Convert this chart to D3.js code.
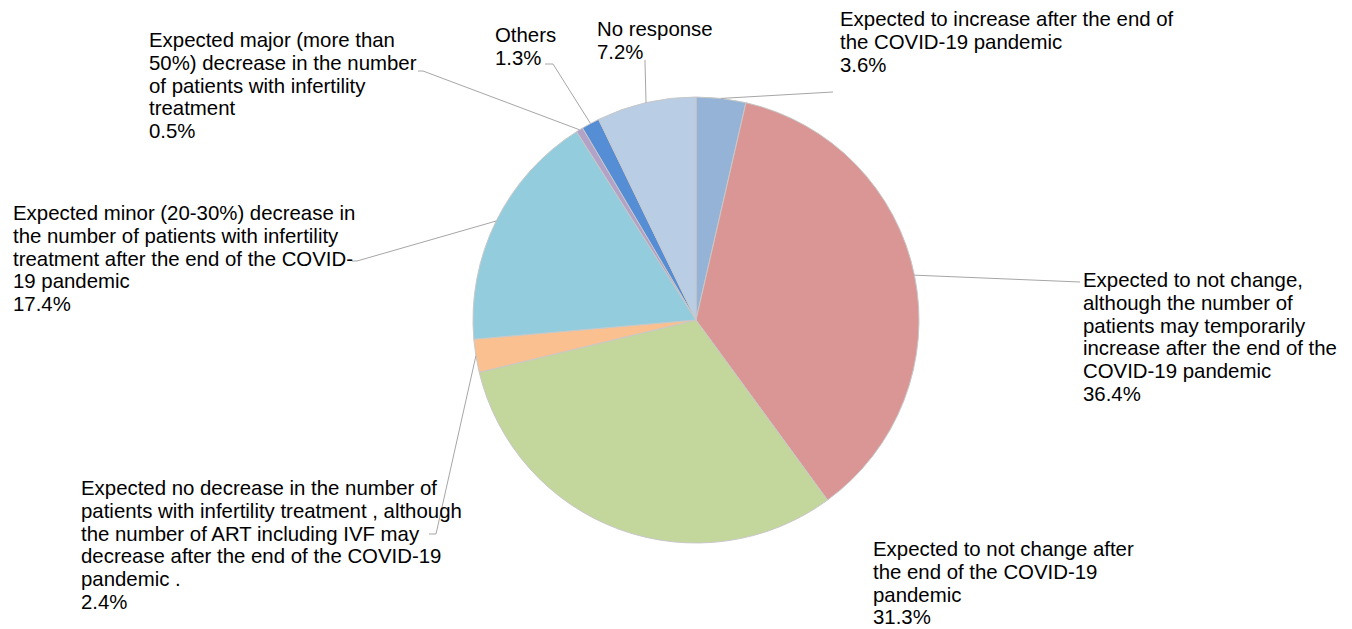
<!DOCTYPE html>
<html>
<head>
<meta charset="utf-8">
<script src="https://cdn.jsdelivr.net/npm/d3@7"></script>
<style>
  html, body { margin: 0; padding: 0; background: #fff; }
  svg { display: block; }
  text { font-family: "Liberation Sans", Arial, sans-serif; font-size: 20.4px; fill: #000; }
</style>
</head>
<body>
<svg id="chart" width="1352" height="629"></svg>
<script>
// ---- data ----
const categories = [
  "Expected to increase after the end of the COVID-19 pandemic",
  "Expected to not change, although the number of patients may temporarily increase after the end of the COVID-19 pandemic",
  "Expected to not change after the end of the COVID-19 pandemic",
  "Expected no decrease in the number of patients with infertility treatment , although the number of ART including IVF may decrease after the end of the COVID-19 pandemic .",
  "Expected minor (20-30%) decrease in the number of patients with infertility treatment after the end of the COVID-19 pandemic",
  "Expected major (more than 50%) decrease in the number of patients with infertility treatment",
  "Others",
  "No response"
];
const values = [3.6, 36.4, 31.3, 2.4, 17.4, 0.5, 1.3, 7.2];
const valueLabels = ["3.6%", "36.4%", "31.3%", "2.4%", "17.4%", "0.5%", "1.3%", "7.2%"];
const labelLines = [
  ["Expected to increase after the end of", "the COVID-19 pandemic"],
  ["Expected to not change,", "although the number of", "patients may temporarily", "increase after the end of the", "COVID-19 pandemic"],
  ["Expected to not change after", "the end of the COVID-19", "pandemic"],
  ["Expected no decrease in the number of", "patients with infertility treatment , although", "the number of ART including IVF may", "decrease after the end of the COVID-19", "pandemic ."],
  ["Expected minor (20-30%) decrease in", "the number of patients with infertility", "treatment after the end of the COVID-", "19 pandemic"],
  ["Expected major (more than", "50%) decrease in the number", "of patients with infertility", "treatment"],
  ["Others"],
  ["No response"]
];

// ---- style / layout ----
const colors = ["#95B3D7", "#D99694", "#C3D69B", "#FAC090", "#93CDDD", "#B3A2C7", "#558ED5", "#B9CDE5"];
const cx = 696, cy = 320, R = 223;
const lineH = 22.8;
// label block: text x, first baseline y; leader: elbow point & end point (null = no leader)
const labelLayout = [
  { x: 840, y: 26,  elbow: [833, 92],  end: [833, 92] },
  { x: 1083, y: 287, elbow: [1080, 282], end: [1080, 282] },
  { x: 873, y: 556, elbow: null, end: null },
  { x: 81,  y: 495, elbow: [436, 534], end: [429, 534] },
  { x: 13,  y: 220, elbow: [357, 261], end: [352, 261] },
  { x: 149, y: 47,  elbow: [423, 71],  end: [418, 71] },
  { x: 495, y: 42,  elbow: [553, 64],  end: [545, 64] },
  { x: 597, y: 36,  elbow: [645, 62],  end: [645, 60] }
];

const svg = d3.select("#chart");
const g = svg.append("g").attr("transform", `translate(${cx},${cy})`);

const pie = d3.pie().sort(null).value(d => d)(values);
const arc = d3.arc().innerRadius(0).outerRadius(R);

g.selectAll("path.slice")
  .data(pie)
  .join("path")
  .attr("class", "slice")
  .attr("d", arc)
  .attr("fill", (d, i) => colors[i])
  .attr("stroke", "#c8c8c8")
  .attr("stroke-width", 1);

// leader lines
pie.forEach((d, i) => {
  const L = labelLayout[i];
  if (!L.elbow) return;
  const a = (d.startAngle + d.endAngle) / 2;
  const sx = cx + R * Math.sin(a), sy = cy - R * Math.cos(a);
  svg.append("polyline")
    .attr("points", [[sx, sy], L.elbow, L.end].map(p => p.join(",")).join(" "))
    .attr("fill", "none")
    .attr("stroke", "#a6a6a6")
    .attr("stroke-width", 1);
});

// labels
labelLayout.forEach((L, i) => {
  const lines = labelLines[i].concat([valueLabels[i]]);
  const t = svg.append("text").attr("x", L.x).attr("y", L.y);
  lines.forEach((ln, k) => {
    t.append("tspan").attr("x", L.x).attr("y", L.y + k * lineH).text(ln);
  });
});
</script>
</body>
</html>
